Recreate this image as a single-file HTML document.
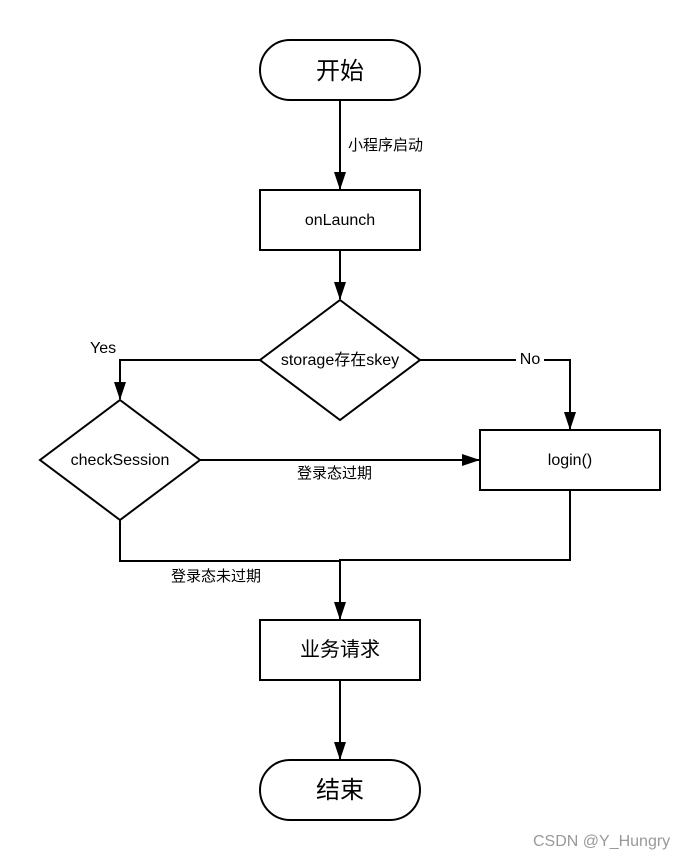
<!DOCTYPE html>
<html><head><meta charset="utf-8"><style>body{margin:0;background:#fff}svg{display:block}text{font-family:"Liberation Sans","Noto Sans CJK SC",sans-serif;fill:#000}</style></head><body>
<svg width="700" height="860" viewBox="0 0 700 860" xmlns="http://www.w3.org/2000/svg">
<defs><marker id="a" markerWidth="10" markerHeight="12" refX="9" refY="6" orient="auto" markerUnits="userSpaceOnUse"><path d="M0,0 L10,6 L0,12 z" fill="#000"/></marker>
<marker id="b" markerWidth="18" markerHeight="12" refX="17" refY="6" orient="auto" markerUnits="userSpaceOnUse"><path d="M0,0 L18,6 L0,12 z" fill="#000"/></marker></defs>
<g fill="none" stroke="#000" stroke-width="2">
<rect x="260" y="40" width="160" height="60" rx="30"/>
<rect x="260" y="190" width="160" height="60"/>
<polygon points="340,300 420,360 340,420 260,360"/>
<polygon points="120,400 200,460 120,520 40,460"/>
<rect x="480" y="430" width="180" height="60"/>
<rect x="260" y="620" width="160" height="60"/>
<rect x="260" y="760" width="160" height="60" rx="30"/>
<path d="M340,100 V189" marker-end="url(#b)"/>
<path d="M340,250 V299" marker-end="url(#b)"/>
<path d="M260,360 H120 V399" marker-end="url(#b)"/>
<path d="M420,360 H570 V429" marker-end="url(#b)"/>
<path d="M200,460 H479" marker-end="url(#b)"/>
<path d="M120,520 V561 H340"/>
<path d="M570,490 V560 H340 V619" marker-end="url(#b)"/>
<path d="M340,680 V759" marker-end="url(#b)"/>
</g>
<rect x="516" y="349" width="28" height="18" fill="#fff"/>
<text x="340" y="79" font-size="24" text-anchor="middle">开始</text>
<text x="348" y="150" font-size="15">小程序启动</text>
<text x="340" y="225" font-size="16" text-anchor="middle">onLaunch</text>
<text x="340" y="365" font-size="16" text-anchor="middle">storage存在skey</text>
<text x="90" y="353" font-size="16">Yes</text>
<text x="530" y="364" font-size="16" text-anchor="middle">No</text>
<text x="120" y="465" font-size="16" text-anchor="middle">checkSession</text>
<text x="570" y="465" font-size="16" text-anchor="middle">login()</text>
<text x="297" y="478" font-size="15">登录态过期</text>
<text x="171" y="581" font-size="15">登录态未过期</text>
<text x="340" y="656" font-size="20" text-anchor="middle">业务请求</text>
<text x="340" y="798" font-size="24" text-anchor="middle">结束</text>
<text x="533" y="846" font-size="16" style="fill:#999">CSDN @Y_Hungry</text>
</svg>
</body></html>
